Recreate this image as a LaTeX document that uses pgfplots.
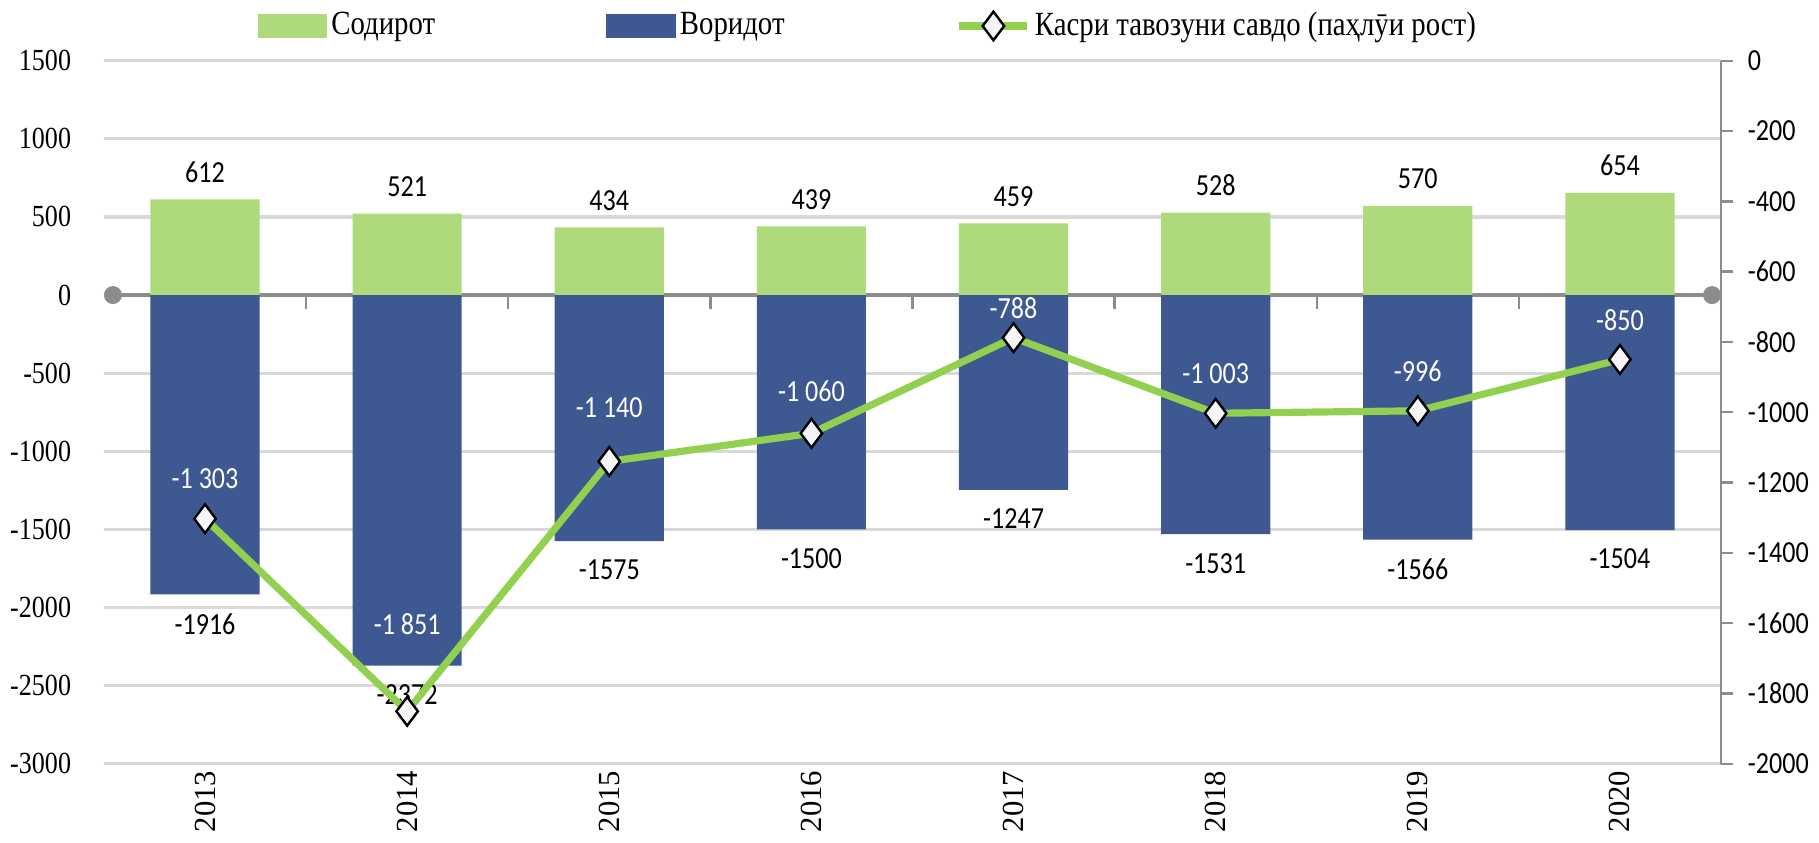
\documentclass[border=0pt]{standalone}
\usepackage{fontspec}
\setmainfont[FakeStretch=0.85]{Liberation Serif}
\newfontfamily\labfont[FakeStretch=0.85]{Carlito}
\newfontfamily\yearfont{Liberation Serif}
\usepackage{pgfplots}
\usepackage{pgfplotstable}
\pgfplotsset{compat=1.18}
\usetikzlibrary{arrows.meta}
\definecolor{expGreen}{RGB}{174,218,124}
\definecolor{impBlue}{RGB}{62,88,145}
\definecolor{balGreen}{RGB}{146,208,80}
\definecolor{gridGray}{RGB}{217,217,217}
\definecolor{axGray}{RGB}{140,140,140}

% exports / imports, left axis
\pgfplotstableread{
x exp imp
0 612 -1916
1 521 -2372
2 434 -1575
3 439 -1500
4 459 -1247
5 528 -1531
6 570 -1566
7 654 -1504
}\tradetab

% trade balance, right axis; off = label lift in pt
\pgfplotstableread{
x bal off
0 -1303 10
1 -1851 22
2 -1140 13.5
3 -1060 10.5
4 -788 7.5
5 -1003 10
6 -996 10
7 -850 10
}\baltab

\begin{document}
\fontsize{7.7}{9}\selectfont
\begin{tikzpicture}
\pgfplotsset{
  every axis/.append style={
    scale only axis, width=406pt, height=176.5pt,
    xmin=-0.5, xmax=7.5,
    /pgf/number format/assume math mode=true,
    /pgf/number format/1000 sep={},
  },
}

\begin{axis}[
  ymin=-3000, ymax=1500, ytick distance=500,
  axis x line*=middle, axis y line*=left,
  y axis line style={draw=none},
  ytick style={draw=none},
  x axis line style={draw=axGray, line width=1.1pt, {Circle[length=4.5pt]}-{Circle[length=4.5pt]}},
  xtick={-0.5,0,...,7.5}, xticklabels={},
  xtick style={draw=axGray, line width=0.6pt},
  tick align=outside, major tick length=3.5pt,
  ymajorgrids, grid style={gridGray, line width=0.8pt},
  yticklabel style={xshift=-2pt},
]
\addplot[ybar, bar width=0.54, bar shift=0pt, fill=expGreen, draw=none,
  nodes near coords,
  every node near coord/.append style={font=\labfont, text=black, anchor=south, yshift=1.5pt}]
  table[x=x, y=exp]{\tradetab};
\addplot[ybar, bar width=0.54, bar shift=0pt, fill=impBlue, draw=none,
  nodes near coords,
  every node near coord/.append style={font=\labfont, text=black, anchor=north, yshift=-2pt}]
  table[x=x, y=imp]{\tradetab};
\end{axis}

\begin{axis}[
  ymin=-2000, ymax=0, ytick distance=200,
  axis y line*=right, axis x line*=bottom,
  x axis line style={draw=none},
  xtick={0,...,7},
  xticklabels={2013,2014,2015,2016,2017,2018,2019,2020},
  xticklabel style={rotate=90, anchor=east, font=\yearfont},
  xticklabel shift=-4pt,
  xtick style={draw=none},
  y axis line style={draw=axGray, line width=0.6pt},
  ytick style={draw=axGray, line width=0.6pt},
  tick align=outside, major tick length=3pt,
  yticklabel style={font=\labfont, xshift=1pt},
  legend columns=3,
  legend style={at={(0.473,1)}, anchor=south, yshift=2pt, draw=none, fill=none,
    font=\fontsize{8.5}{10}\selectfont,
    /tikz/every even column/.append style={column sep=42pt},
    nodes={inner sep=1pt}},
]
\addlegendimage{area legend, fill=expGreen, draw=expGreen}
\addlegendentry{Содирот}
\addlegendimage{area legend, fill=impBlue, draw=impBlue}
\addlegendentry{Воридот}
\addplot[balGreen, line width=1.8pt, mark=diamond*, mark size=3.6pt,
  mark options={fill=gray!8, draw=black, line width=0.6pt},
  visualization depends on={\thisrow{off} \as \myoff},
  nodes near coords={\pgfmathprintnumber[1000 sep={\ }]{\pgfplotspointmeta}},
  every node near coord/.append style={font=\labfont, text=white, anchor=center, yshift=\myoff pt}]
  table[x=x, y=bal]{\baltab};
\addlegendentry{Касри тавозуни савдо (паҳлӯи рост)}
\end{axis}
\end{tikzpicture}
\end{document}
